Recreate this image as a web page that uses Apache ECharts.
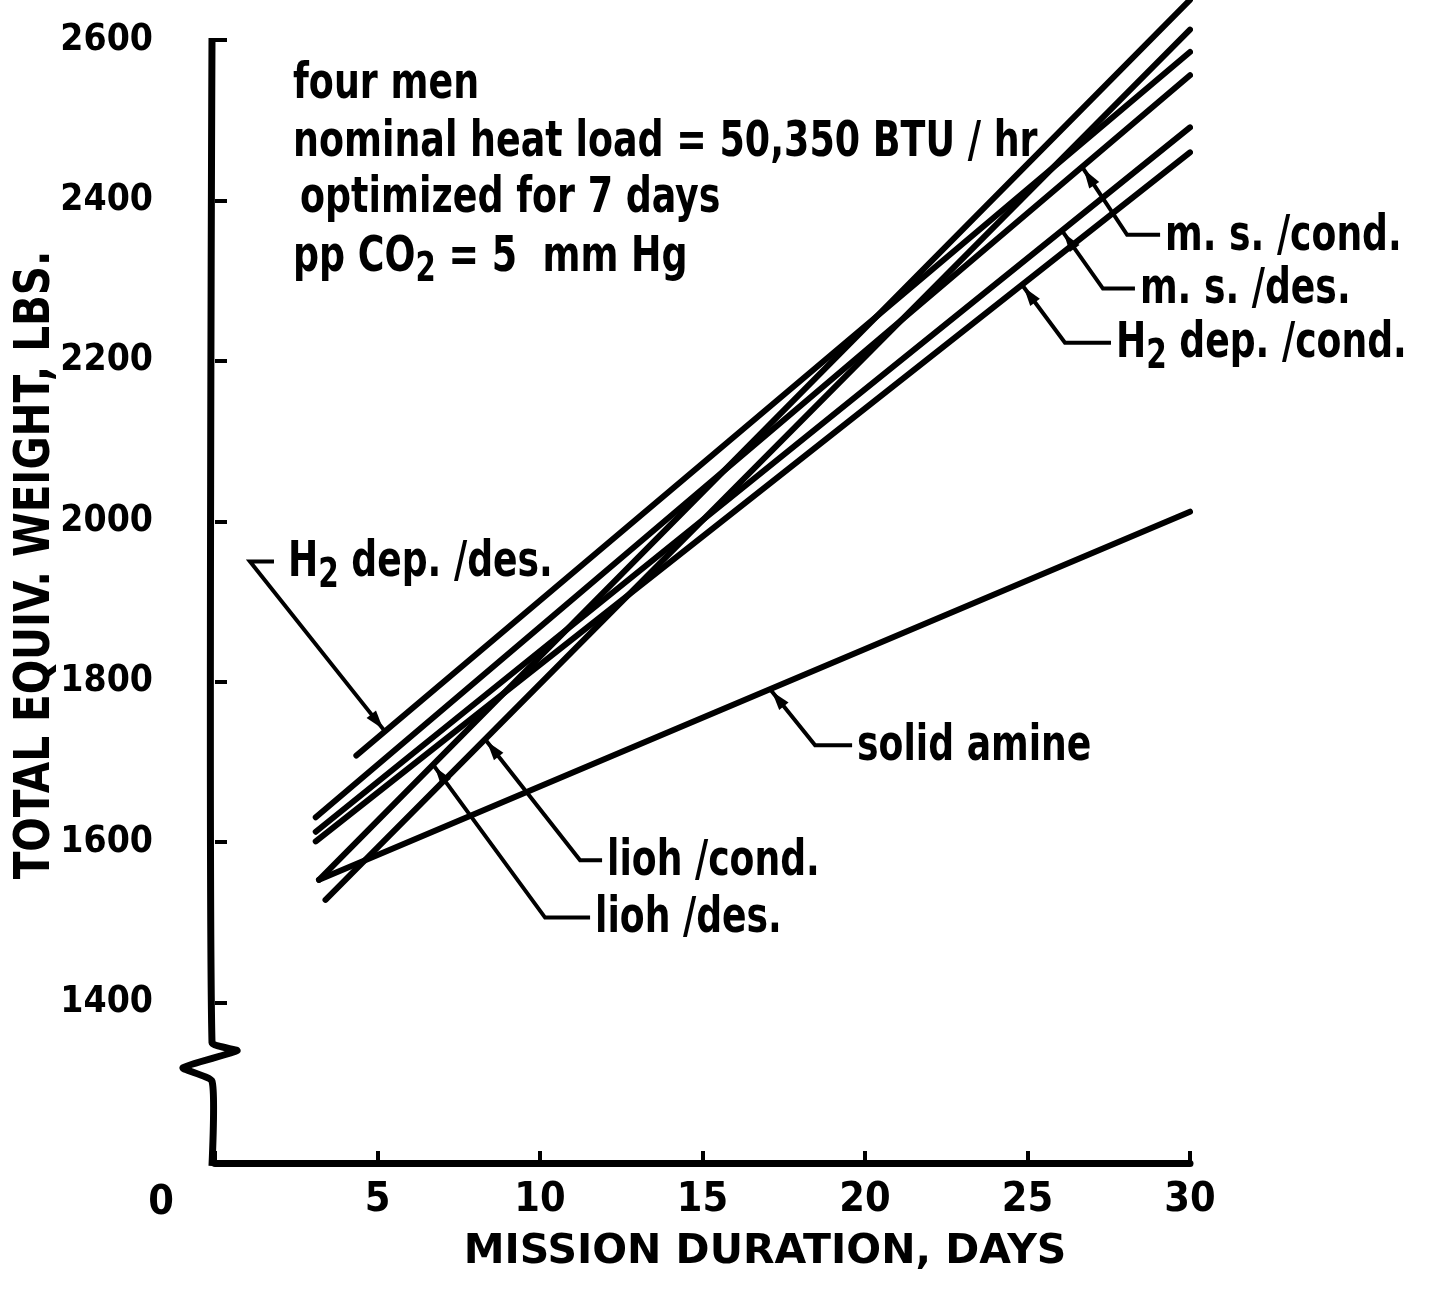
<!DOCTYPE html>
<html><head><meta charset="utf-8">
<script src="https://cdn.jsdelivr.net/npm/echarts@6/dist/echarts.min.js"></script>
<style>html,body{margin:0;padding:0;background:#fff}#c{width:1430px;height:1289px}</style>
</head><body><div id="c"></div>
<script>
// ---- data (mission duration in days, total equivalent weight in lbs) ----
const xTickValues = [0, 5, 10, 15, 20, 25, 30];
const yTickValues = [1400, 1600, 1800, 2000, 2200, 2400, 2600];
const liohDes    = [[3.2, 1553], [30, 2650]];
const liohCond   = [[3.4, 1528], [30, 2613]];
const h2DepDes   = [[4.35, 1708], [30, 2585]];
const msCond     = [[3.1, 1631], [30, 2556]];
const msDes      = [[3.1, 1613], [30, 2491]];
const h2DepCond  = [[3.1, 1601], [30, 2460]];
const solidAmine = [[3.2, 1553], [30, 2012]];
const seriesNames = ['lioh /des.', 'lioh /cond.', 'H2 dep. /des.', 'm. s. /cond.', 'm. s. /des.', 'H2 dep. /cond.', 'solid amine'];
const seriesData = [liohDes, liohCond, h2DepDes, msCond, msDes, h2DepCond, solidAmine];
const noteLines = ['four men', 'nominal heat load = 50,350 BTU / hr', 'optimized for 7 days'];

(function () {
const FONT = "'DejaVu Sans Condensed','DejaVu Sans',sans-serif";
const chart = echarts.init(document.getElementById('c'));

chart.setOption({
  animation: false,
  backgroundColor: '#fff',
  grid: { left: 215, right: 240, top: 40, bottom: 126 },
  xAxis: {
    type: 'value', min: 0, max: 30, interval: 5,
    axisLine: { show: true, lineStyle: { color: '#000', width: 7 } },
    axisTick: { show: true, inside: true, length: 12, lineStyle: { color: '#000', width: 4 } },
    axisLabel: { formatter: v => (xTickValues.indexOf(v) <= 0 ? '' : String(v)), color: '#000', fontFamily: FONT, fontWeight: 'bold', fontSize: 41, margin: 17 },
    splitLine: { show: false }
  },
  yAxis: {
    type: 'value', min: 1200, max: 2600, interval: 200,
    axisLine: { show: false },
    axisTick: { show: true, inside: true, length: 12, lineStyle: { color: '#000', width: 4 } },
    axisLabel: { formatter: v => (yTickValues.indexOf(v) < 0 ? '' : String(v)), color: '#000', fontFamily: FONT, fontWeight: 'bold', fontSize: 37, margin: 62 },
    splitLine: { show: false }
  },
  series: seriesData.map((d, i) => ({
    type: 'line', name: seriesNames[i], data: d, symbol: 'none', clip: false,
    lineStyle: { color: '#000', width: 6, cap: 'round' }, z: 3
  }))
});

function P(x, y) { return chart.convertToPixel({ gridIndex: 0 }, [x, y]); }
function valAt(d, day) { const a = d[0], b = d[1]; return a[1] + (day - a[0]) / (b[0] - a[0]) * (b[1] - a[1]); }

const g = [];
// y axis line with break zigzag
const pTop = P(0, 2600), pB1 = P(0, 1350), pB2 = P(0, 1302), pBot = P(0, 1200);
const ax = pTop[0] - 3;
g.push({ type: 'polyline', z: 5, shape: { points: [[ax, pTop[1] - 2], [ax, pB1[1]], [ax + 25, pB1[1] + 8], [ax - 29, pB1[1] + 25], [ax, pB2[1]], [ax, pBot[1] + 3]], smooth: 0.15 },
  style: { stroke: '#000', lineWidth: 7, fill: null, lineJoin: 'round' } });

const ann = [
  { d: msCond, day: 26.68, off: [45, 68], run: 33, text: '{n|m. s. /cond.}' },
  { d: msDes, day: 26.06, off: [41, 58], run: 32, text: '{n|m. s. /des.}' },
  { d: h2DepCond, day: 24.83, off: [43, 58], run: 46, text: '{n|H}{s|2}{n| dep. /cond.}' },
  { d: solidAmine, day: 17.08, off: [45, 56], run: 37, text: '{n|solid amine}' },
  { d: liohCond, day: 8.31, off: [95, 121], run: 22, text: '{n|lioh /cond.}' },
  { d: liohDes, day: 6.71, off: [112, 153], run: 45, text: '{n|lioh /des.}' },
  { d: h2DepDes, day: 5.23, off: [-135, -170], run: 24, text: '{n|H}{s|2}{n| dep. /des.}', gap: 14 }
];
const rich = {
  n: { fontFamily: FONT, fontWeight: 'bold', fontSize: 49, fill: '#000', color: '#000', lineHeight: 56 },
  s: { fontFamily: FONT, fontWeight: 'bold', fontSize: 40, fill: '#000', color: '#000', lineHeight: 56, padding: [26, 0, 0, 0] }
};
ann.forEach(a => {
  const p = P(a.day, valAt(a.d, a.day));
  const e = [p[0] + a.off[0], p[1] + a.off[1]];
  const end = [e[0] + a.run, e[1]];
  g.push({ type: 'polyline', z: 4, shape: { points: [p, e, end] }, style: { stroke: '#000', lineWidth: 4, fill: null } });
  const dx = e[0] - p[0], dy = e[1] - p[1], L = Math.hypot(dx, dy), ux = dx / L, uy = dy / L;
  const apex = [p[0] + ux * 3, p[1] + uy * 3], base = [p[0] + ux * 22, p[1] + uy * 22];
  g.push({ type: 'polygon', z: 4, shape: { points: [apex, [base[0] - uy * 6, base[1] + ux * 6], [base[0] + uy * 6, base[1] - ux * 6]] }, style: { fill: '#000' } });
  g.push({ type: 'text', z: 6, x: end[0] + (a.gap || 5), y: e[1] + 2, scaleX: 0.82,
    style: { text: a.text, rich: rich, x: 0, y: 0, verticalAlign: 'middle', align: 'left' } });
});

const noteX = [293, 293, 300], noteY = [85, 143, 199];
noteLines.forEach((t, i) => {
  g.push({ type: 'text', z: 6, x: noteX[i], y: noteY[i], scaleX: 0.81,
    style: { text: t, x: 0, y: 0, fill: '#000', font: "bold 50px " + FONT, verticalAlign: 'middle' } });
});
g.push({ type: 'text', z: 6, x: 293, y: 258, scaleX: 0.81,
  style: { text: '{n|pp CO}{s|2}{n| = 5  mm Hg}', rich: { n: Object.assign({}, rich.n, { fontSize: 50 }), s: rich.s }, x: 0, y: 0, verticalAlign: 'middle' } });

g.push({ type: 'text', z: 6, style: { text: '0', x: 161, y: 1203, fill: '#000', font: "bold 41px " + FONT, align: 'center', verticalAlign: 'middle' } });
g.push({ type: 'text', z: 6, rotation: Math.PI / 2, x: 36, y: 565, scaleX: 0.9,
  style: { text: 'TOTAL EQUIV. WEIGHT, LBS.', x: 0, y: 0, fill: '#000', font: "bold 50px " + FONT, align: 'center', verticalAlign: 'middle' } });
g.push({ type: 'text', z: 6, style: { text: 'MISSION DURATION, DAYS', x: 765, y: 1252, fill: '#000', font: "bold 41px 'DejaVu Sans', sans-serif", align: 'center', verticalAlign: 'middle' } });

chart.setOption({ graphic: g });
})();
</script>
</body></html>
